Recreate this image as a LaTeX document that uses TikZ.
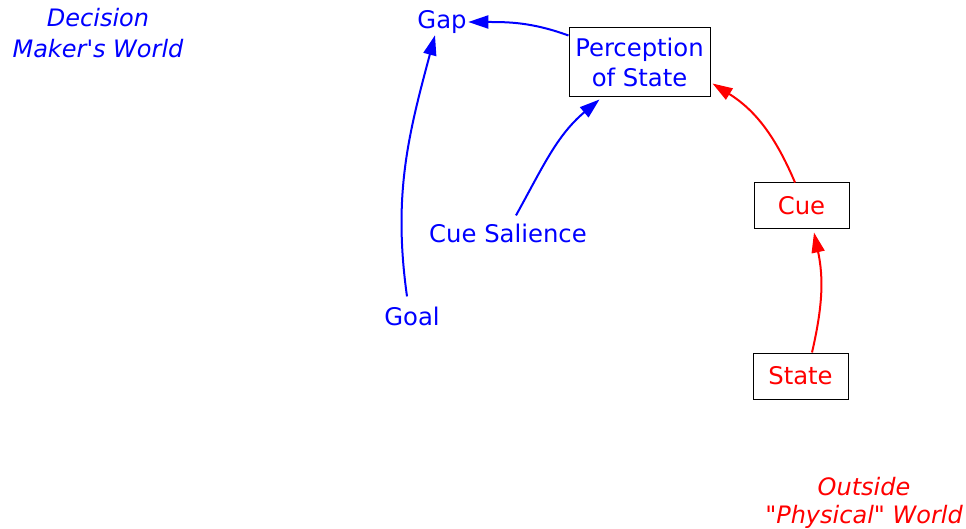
\documentclass[tikz,border=0pt]{standalone}
\usepackage{fontspec}
\setmainfont{DejaVu Sans}[Ligatures=TeXOff]
\usetikzlibrary{arrows.meta}
\definecolor{vblue}{RGB}{0,0,255}
\definecolor{vred}{RGB}{255,0,0}
\tikzset{
  lbl/.style={inner sep=3pt, font=\fontsize{24.3}{30}\selectfont, align=center},
  boxed/.style={lbl, draw=black, line width=1pt, minimum height=46pt},
  link/.style={line width=2pt, -{Triangle[length=20pt,width=13pt]}},
  world/.style={inner sep=0pt, align=center}
}
\begin{document}
\begin{tikzpicture}[x=1pt,y=1pt]
\useasboundingbox (0,0) rectangle (966,-529);
% nodes
\node[lbl, text=vblue, inner sep=1.5pt] (gap) at (442,-22) {Gap};
\node[boxed, text=vblue, minimum width=141pt, minimum height=69pt] (perc) at (639.5,-62.5) {Perception\\of State};
\node[lbl, text=vblue] (sal) at (508,-233) {Cue Salience};
\node[lbl, text=vblue] (goal) at (412,-316) {Goal};
\node[boxed, text=vred, minimum width=95pt] (cue) at (801.5,-206) {Cue};
\node[boxed, text=vred, minimum width=95pt] (state) at (800.5,-376) {State};
\node[world, text=vblue, font=\fontsize{24}{30.5}\selectfont\itshape] (dmw) at (98,-33) {Decision\\Maker's World};
\node[world, text=vred, font=\fontsize{24}{28}\selectfont\itshape] (opw) at (864,-503) {Outside\\"Physical" World};
% connectors
\draw[link, vblue] ([yshift=-8pt]perc.north west) to[out=160, in=0] (gap.east);
\draw[link, vblue] ([xshift=-5pt,yshift=7pt]goal.north) to[out=98, in=255] ([xshift=-7pt]gap.south);
\draw[link, vblue] ([xshift=8pt,yshift=5pt]sal.north) to[out=61, in=220] ([xshift=31pt,yshift=-2pt]perc.south west);
\draw[link, vred] ([xshift=-6.5pt]cue.north) to[out=113, in=-32] ([xshift=2pt,yshift=14pt]perc.south east);
\draw[link, vred] ([xshift=11.5pt]state.north) to[out=77, in=282] ([xshift=12.5pt,yshift=-3pt]cue.south);
\end{tikzpicture}
\end{document}
